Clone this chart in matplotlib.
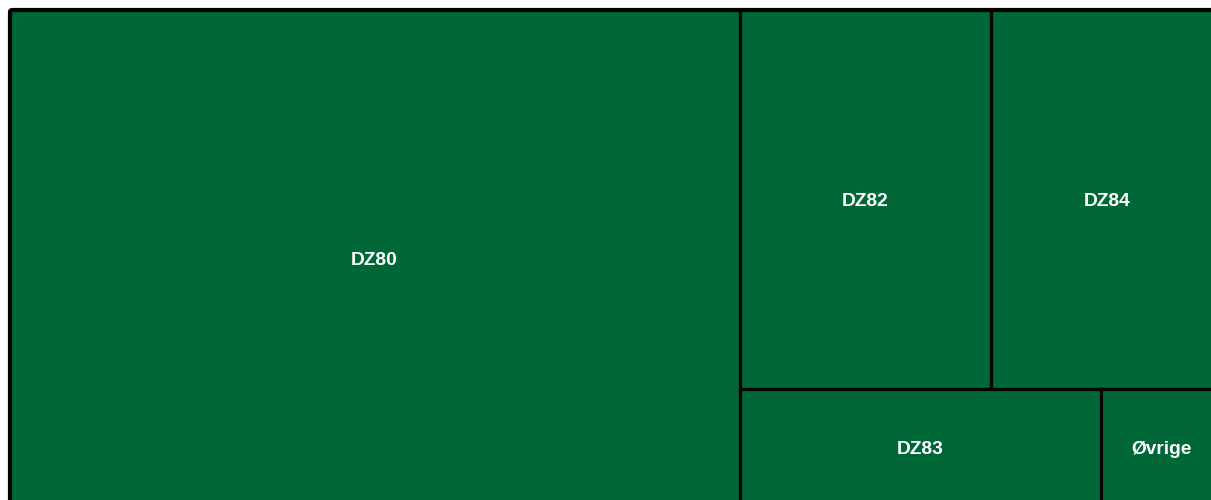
import matplotlib
matplotlib.use("Agg")
import matplotlib.pyplot as plt
from matplotlib.patches import Rectangle, FancyBboxPatch

# Data (areas, shares of total)
labels = ["DZ80", "DZ82", "DZ84", "DZ83", "Øvrige"]
values = [60.2, 15.8, 14.6, 7.06, 2.39]

FILL = "#006837"
EDGE = "#000000"

# Treemap extent in pixel coordinates (treemap extends beyond the visible crop)
X0, Y0, W, H = 9.5, 9.5, 1213.5, 497.5
FONT_PT = 13.8
CAP_HALF_PX = 0.716 * FONT_PT * 100 / 72 / 2


def worst(row, side):
    s = sum(row)
    mx, mn = max(row), min(row)
    return max(side * side * mx / (s * s), (s * s) / (side * side * mn))


def layout_row(row, x, y, w, h):
    s = sum(row)
    rects = []
    if w >= h:
        cw = s / h
        cy = y
        for v in row:
            rh = v / cw
            rects.append((x, cy, cw, rh))
            cy += rh
        return rects, (x + cw, y, w - cw, h)
    else:
        rh = s / w
        cx = x
        for v in row:
            rw = v / rh
            rects.append((cx, y, rw, rh))
            cx += rw
        return rects, (x, y + rh, w, h - rh)


def squarify(vals, x, y, w, h):
    total = sum(vals)
    scaled = [v * w * h / total for v in vals]
    rects = []
    rect = (x, y, w, h)
    i = 0
    while i < len(scaled):
        rx, ry, rw, rh = rect
        side = min(rw, rh)
        row = [scaled[i]]
        i += 1
        while i < len(scaled) and worst(row + [scaled[i]], side) <= worst(row, side):
            row.append(scaled[i])
            i += 1
        r, rect = layout_row(row, *rect)
        rects.extend(r)
    return rects


fig = plt.figure(figsize=(12.11, 5.0), dpi=100)
ax = fig.add_axes([0, 0, 1, 1])
ax.set_xlim(0, 1211)
ax.set_ylim(500, 0)
ax.axis("off")

rects = squarify(values, X0, Y0, W, H)
for (rx, ry, rw, rh), lab in zip(rects, labels):
    ax.add_patch(Rectangle((rx, ry), rw, rh, facecolor=FILL, edgecolor=EDGE,
                           linewidth=2.3, joinstyle="miter"))
    ax.text(rx + rw / 2, ry + rh / 2 + CAP_HALF_PX - 0.5, lab, ha="center", va="baseline",
            color="white", fontsize=FONT_PT, fontweight="bold",
            family=["Liberation Sans", "DejaVu Sans"])

# Outer border with rounded corner
ax.add_patch(FancyBboxPatch((X0, Y0), W, H, boxstyle="round,pad=0,rounding_size=3",
                            facecolor="none", edgecolor=EDGE, linewidth=2.3))

fig.savefig("out.png", dpi=100)
